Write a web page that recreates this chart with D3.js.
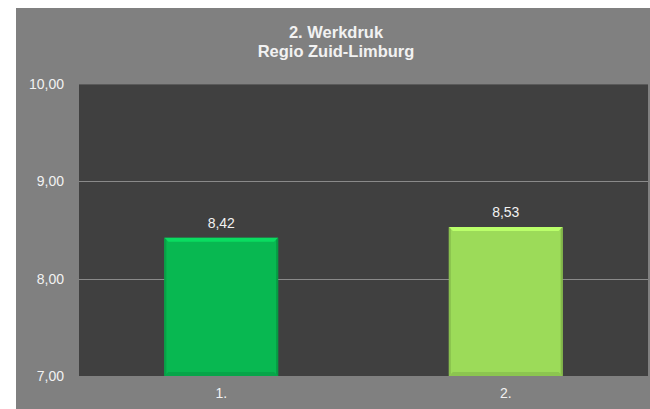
<!DOCTYPE html>
<html>
<head>
<meta charset="utf-8">
<script src="https://cdn.jsdelivr.net/npm/d3@7"></script>
<style>
  body { margin: 0; background: #ffffff; }
  svg { display: block; font-family: "Liberation Sans", Arial, sans-serif; }
</style>
</head>
<body>
<svg id="chart" width="650" height="409"></svg>
<script>
// chart data
const categories = ["1.", "2."];
const values = [8.42, 8.53];
const barColors = ["#08b851", "#9cdb59"];
const yTicks = [7, 8, 9, 10];
const titleLines = ["2. Werkdruk", "Regio Zuid-Limburg"];

const svg = d3.select("#chart");

// outer grey panel
svg.append("rect")
    .attr("x", 16).attr("y", 8)
    .attr("width", 634).attr("height", 401)
    .attr("fill", "#808080");

const plot = {left: 79, right: 648, top: 84, bottom: 376};

const x = d3.scaleBand()
    .domain(categories)
    .range([plot.left, plot.right])
    .paddingInner(0.6)
    .paddingOuter(0.3);

const y = d3.scaleLinear()
    .domain([7, 10])
    .range([plot.bottom, plot.top]);

// plot area
svg.append("rect")
    .attr("x", plot.left).attr("y", plot.top)
    .attr("width", plot.right - plot.left).attr("height", plot.bottom - plot.top)
    .attr("fill", "#404040");

svg.append("line")
    .attr("x1", plot.left).attr("x2", plot.right)
    .attr("y1", plot.top + 0.5).attr("y2", plot.top + 0.5)
    .attr("stroke", "#5a5a5a");

// gridlines
svg.append("g")
    .selectAll("line")
    .data(yTicks.filter(d => d > 7 && d < 10))
    .join("line")
    .attr("x1", plot.left).attr("x2", plot.right)
    .attr("y1", d => Math.round(y(d)) + 0.5)
    .attr("y2", d => Math.round(y(d)) + 0.5)
    .attr("stroke", "#8a8a8a")
    .attr("stroke-width", 1);

// y axis labels
const yAxis = g => g
    .attr("transform", `translate(${plot.left},0)`)
    .call(d3.axisLeft(y).tickValues(yTicks).tickSize(0).tickPadding(15)
        .tickFormat(d => d3.format(".2f")(d).replace(".", ",")))
    .call(g => g.select(".domain").remove())
    .call(g => g.selectAll("text")
        .attr("fill", "#f2f2f2")
        .attr("font-size", 14)
        .attr("font-family", "Liberation Sans, Arial, sans-serif"));

svg.append("g").call(yAxis);

// x axis labels
const xAxis = g => g
    .attr("transform", `translate(0,${plot.bottom})`)
    .call(d3.axisBottom(x).tickSize(0).tickPadding(12))
    .call(g => g.select(".domain").remove())
    .call(g => g.selectAll("text")
        .attr("fill", "#f2f2f2")
        .attr("font-size", 14)
        .attr("font-family", "Liberation Sans, Arial, sans-serif"));

svg.append("g").call(xAxis);

// bars with bevel
const bev = 4;
const bars = svg.append("g")
    .selectAll("g")
    .data(categories)
    .join("g");

bars.append("rect")
    .attr("x", d => x(d))
    .attr("y", (d, i) => y(values[i]))
    .attr("width", x.bandwidth())
    .attr("height", (d, i) => y(7) - y(values[i]))
    .attr("fill", (d, i) => barColors[i]);

// top highlight
bars.append("polygon")
    .attr("points", (d, i) => {
        const x0 = x(d), x1 = x(d) + x.bandwidth(), t = y(values[i]);
        return [[x0, t], [x1, t], [x1 - bev, t + bev], [x0 + bev, t + bev]].join(" ");
    })
    .attr("fill", (d, i) => d3.color(barColors[i]).brighter(0.5));

// bottom shadow
bars.append("polygon")
    .attr("points", d => {
        const x0 = x(d), x1 = x(d) + x.bandwidth(), b = y(7);
        return [[x0, b], [x1, b], [x1 - bev, b - bev], [x0 + bev, b - bev]].join(" ");
    })
    .attr("fill", (d, i) => d3.color(barColors[i]).darker(0.3));

// side edges
bars.append("polygon")
    .attr("points", (d, i) => {
        const x0 = x(d), t = y(values[i]), b = y(7);
        return [[x0, t], [x0 + bev / 2, t + bev / 2], [x0 + bev / 2, b - bev / 2], [x0, b]].join(" ");
    })
    .attr("fill", (d, i) => d3.color(barColors[i]).darker(0.35));

bars.append("polygon")
    .attr("points", (d, i) => {
        const x1 = x(d) + x.bandwidth(), t = y(values[i]), b = y(7);
        return [[x1, t], [x1 - bev / 2, t + bev / 2], [x1 - bev / 2, b - bev / 2], [x1, b]].join(" ");
    })
    .attr("fill", (d, i) => d3.color(barColors[i]).darker(0.5));

// value labels
bars.append("text")
    .attr("x", d => x(d) + x.bandwidth() / 2)
    .attr("y", (d, i) => y(values[i]) - 10)
    .attr("text-anchor", "middle")
    .attr("fill", "#f2f2f2")
    .attr("font-size", 14)
    .text((d, i) => d3.format(".2f")(values[i]).replace(".", ","));

// title
svg.append("text")
    .attr("text-anchor", "middle")
    .attr("fill", "#f2f2f2")
    .attr("font-size", 16.5)
    .attr("font-weight", "bold")
    .selectAll("tspan")
    .data(titleLines)
    .join("tspan")
    .attr("x", 336)
    .attr("y", (d, i) => 38 + i * 19)
    .text(d => d);
</script>
</body>
</html>
